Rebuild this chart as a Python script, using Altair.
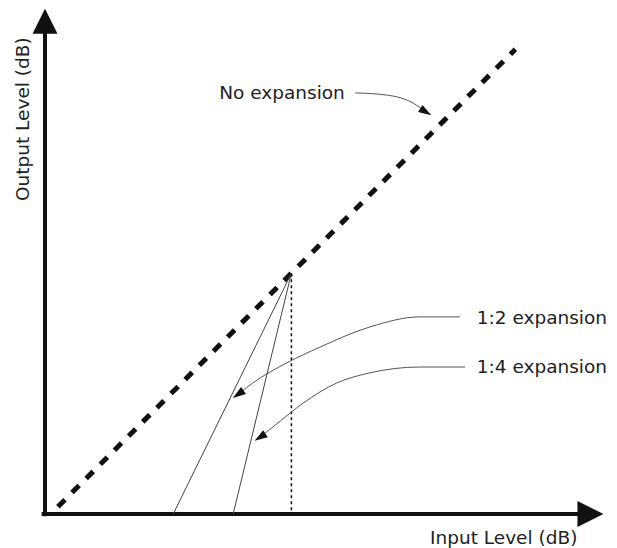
import altair as alt
import pandas as pd

# ---- data (dB units; origin = axes corner) ----
threshold_x = 44.0
threshold_y = 43.0

unity_x = [2.3, 84.0]
unity_y = [1.3, 83.0]

exp12_x = [44.0, 22.9]
exp12_y = [43.0, 0.0]

exp14_x = [44.0, 33.6]
exp14_y = [43.0, 0.0]

# annotation leader curves
lead_no_x = [55.4, 61.1, 65.7, 68.0]
lead_no_y = [75.2, 74.8, 73.4, 71.8]
lead_12_x = [74.1, 67.0, 58.0, 49.1, 43.2, 37.1, 34.5]
lead_12_y = [35.2, 35.2, 33.4, 29.8, 27.0, 23.4, 21.4]
lead_14_x = [75.0, 67.0, 58.0, 52.1, 46.1, 42.0, 38.4]
lead_14_y = [26.25, 26.25, 25.2, 23.4, 19.8, 16.6, 13.7]

# arrow heads at the ends of the leaders
head_x = [68.0, 34.5, 38.4]
head_y = [71.8, 21.4, 13.7]
head_angle = [32, 145, 147]

labels = ["No expansion", "1:2 expansion", "1:4 expansion"]
label_x = [31.1, 77.1, 77.1]
label_y = [75.2, 35.0, 26.25]

x_title = "Input Level (dB)"
y_title = "Output Level (dB)"

# axis extents
xaxis_x = [-0.6, 95.5]
xaxis_y = [0.0, 0.0]
yaxis_x = [0.0, 0.0]
yaxis_y = [-0.4, 86.0]

xs = alt.Scale(domain=[0, 100], range=[37, 597], nice=False, zero=False)
ys = alt.Scale(domain=[0, 90], range=[506, 2], nice=False, zero=False)

FONT = "DejaVu Sans"
FSIZE = 18.5
TCOLOR = "#222222"


def line_df(xv, yv):
    return pd.DataFrame({"x": xv, "y": yv, "i": list(range(len(xv)))})


def enc(ch):
    return ch.encode(
        x=alt.X("x:Q", scale=xs, axis=None),
        y=alt.Y("y:Q", scale=ys, axis=None),
        order=alt.Order("i:Q"),
    )


layers = []

# axes
layers.append(enc(alt.Chart(line_df(xaxis_x, xaxis_y)).mark_line(color="#111", strokeWidth=4)))
layers.append(enc(alt.Chart(line_df(yaxis_x, yaxis_y)).mark_line(color="#111", strokeWidth=4)))
layers.append(
    alt.Chart(pd.DataFrame({"x": [97.4], "y": [0.0]}))
    .mark_point(shape="M-1,-1L1,0L-1,1Z", filled=True, size=676, color="#111", opacity=1)
    .encode(x=alt.X("x:Q", scale=xs, axis=None), y=alt.Y("y:Q", scale=ys, axis=None))
)
layers.append(
    alt.Chart(pd.DataFrame({"x": [0.0], "y": [88.0]}))
    .mark_point(shape="M-1,1L0,-1L1,1Z", filled=True, size=625, color="#111", opacity=1)
    .encode(x=alt.X("x:Q", scale=xs, axis=None), y=alt.Y("y:Q", scale=ys, axis=None))
)

# unity (no expansion) dashed line
layers.append(enc(alt.Chart(line_df(unity_x, unity_y)).mark_line(
    color="#111", strokeWidth=5, strokeDash=[10, 10])))

# expansion lines
layers.append(enc(alt.Chart(line_df(exp12_x, exp12_y)).mark_line(color="#444", strokeWidth=1)))
layers.append(enc(alt.Chart(line_df(exp14_x, exp14_y)).mark_line(color="#444", strokeWidth=1)))

# threshold dotted vertical
layers.append(enc(alt.Chart(line_df([threshold_x, threshold_x], [threshold_y, 0.0])).mark_line(
    color="#111", strokeWidth=1.5, strokeDash=[3, 3])))

# leader curves
for lx, ly in [(lead_no_x, lead_no_y), (lead_12_x, lead_12_y), (lead_14_x, lead_14_y)]:
    layers.append(enc(alt.Chart(line_df(lx, ly)).mark_line(
        color="#555", strokeWidth=1, interpolate="monotone")))

# arrow heads
layers.append(
    alt.Chart(pd.DataFrame({"x": head_x, "y": head_y, "a": head_angle}))
    .mark_point(shape="M-1,-0.65L1,0L-1,0.65Z", filled=True, size=169, color="#111", opacity=1)
    .encode(
        x=alt.X("x:Q", scale=xs, axis=None),
        y=alt.Y("y:Q", scale=ys, axis=None),
        angle=alt.Angle("a:Q", scale=None),
    )
)

# labels
layers.append(
    alt.Chart(pd.DataFrame({"x": label_x, "y": label_y, "t": labels}))
    .mark_text(align="left", baseline="middle", font=FONT, fontSize=FSIZE, color=TCOLOR)
    .encode(x=alt.X("x:Q", scale=xs, axis=None), y=alt.Y("y:Q", scale=ys, axis=None), text="t:N")
)
layers.append(
    alt.Chart(pd.DataFrame({"x": [68.75], "y": [-4.3], "t": [x_title]}))
    .mark_text(align="left", baseline="middle", font=FONT, fontSize=FSIZE, color=TCOLOR)
    .encode(x=alt.X("x:Q", scale=xs, axis=None), y=alt.Y("y:Q", scale=ys, axis=None), text="t:N")
)
layers.append(
    alt.Chart(pd.DataFrame({"x": [-3.9], "y": [70.5], "t": [y_title]}))
    .mark_text(align="center", baseline="middle", angle=270, font=FONT, fontSize=FSIZE, color=TCOLOR)
    .encode(x=alt.X("x:Q", scale=xs, axis=None), y=alt.Y("y:Q", scale=ys, axis=None), text="t:N")
)

chart = (
    alt.layer(*layers)
    .properties(width=601, height=540, padding=0, autosize=alt.AutoSizeParams(type="none"),
                background="white")
    .configure_view(stroke=None)
)

chart.save("out.html", embed_options={"renderer": "svg", "actions": False})
